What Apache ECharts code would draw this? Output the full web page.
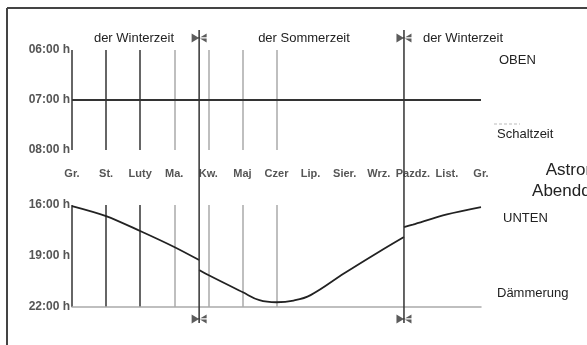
<!DOCTYPE html>
<html>
<head>
<meta charset="utf-8">
<script src="https://cdn.jsdelivr.net/npm/echarts@6/dist/echarts.min.js"></script>
<style>
  html, body { margin: 0; padding: 0; background: #fff; }
  #chart { width: 587px; height: 345px; }
</style>
</head>
<body>
<div id="chart"></div>
<script>
// Monatsnamen (polnisch, wie im Original)
const months = ["Gr.", "St.", "Luty", "Ma.", "Kw.", "Maj", "Czer", "Lip.", "Sier.", "Wrz.", "Pazdz.", "List.", "Gr."];
// oben: Schaltzeit bleibt bei 07:00 h
const upperValues = [7, 7, 7, 7, 7, 7, 7, 7, 7, 7, 7, 7, 7];
const upperTicks = { 6: "06:00 h", 7: "07:00 h", 8: "08:00 h" };
// unten: Ende der Dämmerung (Stunden), in drei Abschnitten wegen Zeitumstellung
const winter1X = [0, 1, 2, 3, 3.73];
const winter1Y = [16.06, 16.65, 17.53, 18.47, 19.24];
const summerX = [3.73, 4, 5, 5.5, 6, 6.5, 7, 8, 9, 9.74];
const summerY = [19.82, 20.12, 21.12, 21.6, 21.72, 21.62, 21.3, 20.0, 18.76, 17.88];
const winter2X = [9.74, 10, 11, 12];
const winter2Y = [17.3, 17.15, 16.55, 16.12];
const lowerTicks = { 16: "16:00 h", 19: "19:00 h", 22: "22:00 h" };
// Zeitumstellung
const dstX = [3.73, 9.74];

const font = "'Liberation Sans', Arial, sans-serif";
const pairs = (xs, ys) => xs.map((x, i) => [x, ys[i]]);
const lineColors = ["#333", "#333", "#333", "#aaa", "#aaa", "#aaa", "#aaa",
  "rgba(0,0,0,0)", "rgba(0,0,0,0)", "rgba(0,0,0,0)", "rgba(0,0,0,0)", "rgba(0,0,0,0)", "rgba(0,0,0,0)"];
const bowtie = "path://M0,0 L7.5,4.5 L0,9 Z M15,0 L7.5,4.5 L15,9 Z M0,3.8 L15,3.8 L15,5.2 L0,5.2 Z";

const baseX = {
  type: "value", min: 0, max: 12, interval: 1,
  axisTick: { show: false },
  splitLine: { show: true, lineStyle: { color: lineColors, width: 1.5 } },
};
const txt = (x, y, text, size, align) => ({
  type: "text", x, y,
  style: { text, font: `${size}px ${font}`, fill: "#222", textAlign: align || "left", textVerticalAlign: "middle" },
});
const yLabel = (ticks) => ({
  margin: 2, fontSize: 12, fontWeight: "bold", color: "#555", fontFamily: font,
  formatter: (v) => ticks[v] || "",
});

const options = {
  animation: false,
  grid: [
    { left: 72, top: 50, width: 409, height: 100 },
    { left: 72, top: 205, width: 409, height: 102 },
    { left: 72, top: 30, width: 409, height: 293 },
  ],
  xAxis: [
    Object.assign({}, baseX, {
      gridIndex: 0,
      axisLine: { show: false },
      axisLabel: {
        margin: 18, fontSize: 11, fontWeight: "bold", color: "#555", fontFamily: font,
        showMinLabel: true, showMaxLabel: true,
        formatter: (v) => months[v] || "",
      },
    }),
    Object.assign({}, baseX, {
      gridIndex: 1,
      axisLine: { show: true, onZero: false, lineStyle: { color: "#aaa", width: 1.5 } },
      axisLabel: { show: false },
    }),
    { type: "value", gridIndex: 2, min: 0, max: 12, show: false },
  ],
  yAxis: [
    {
      type: "value", gridIndex: 0, min: 6, max: 8, interval: 1, inverse: true,
      axisLine: { show: false }, axisTick: { show: false }, splitLine: { show: false },
      axisLabel: yLabel(upperTicks),
    },
    {
      type: "value", gridIndex: 1, min: 16, max: 22, interval: 1, inverse: true,
      axisLine: { show: false }, axisTick: { show: false }, splitLine: { show: false },
      axisLabel: yLabel(lowerTicks),
    },
    { type: "value", gridIndex: 2, min: 0, max: 1, inverse: true, show: false },
  ],
  graphic: [
    { type: "line", shape: { x1: 7, y1: 8, x2: 587, y2: 8 }, style: { stroke: "#444", lineWidth: 2 } },
    { type: "line", shape: { x1: 7, y1: 8, x2: 7, y2: 345 }, style: { stroke: "#444", lineWidth: 2 } },
    { type: "line", shape: { x1: 494, y1: 124, x2: 520, y2: 124 }, style: { stroke: "#bbb", lineWidth: 1, lineDash: [3, 2] } },
    txt(134, 38, "der Winterzeit", 13, "center"),
    txt(304, 38, "der Sommerzeit", 13, "center"),
    txt(463, 38, "der Winterzeit", 13, "center"),
    txt(499, 60, "OBEN", 13),
    txt(497, 134, "Schaltzeit", 13),
    txt(602, 170, "Astronomische", 17, "center"),
    txt(602, 191, "Abenddämmerung", 17, "center"),
    txt(503, 218, "UNTEN", 13),
    txt(497, 293, "Dämmerung", 13),
  ],
  series: [
    {
      name: "oben", type: "line", xAxisIndex: 0, yAxisIndex: 0, symbol: "none",
      data: upperValues.map((v, i) => [i, v]),
      lineStyle: { color: "#333", width: 1.8 },
    },
    {
      name: "Winterzeit 1", type: "line", xAxisIndex: 1, yAxisIndex: 1, symbol: "none", smooth: 0.3,
      data: pairs(winter1X, winter1Y), lineStyle: { color: "#222", width: 1.8 },
    },
    {
      name: "Sommerzeit", type: "line", xAxisIndex: 1, yAxisIndex: 1, symbol: "none", smooth: 0.4,
      data: pairs(summerX, summerY), lineStyle: { color: "#222", width: 1.8 },
    },
    {
      name: "Winterzeit 2", type: "line", xAxisIndex: 1, yAxisIndex: 1, symbol: "none", smooth: 0.3,
      data: pairs(winter2X, winter2Y), lineStyle: { color: "#222", width: 1.8 },
    },
    {
      name: "Umstellung März", type: "line", xAxisIndex: 2, yAxisIndex: 2, symbol: "none",
      data: [[dstX[0], 0], [dstX[0], 1]], lineStyle: { color: "#333", width: 1.5 },
    },
    {
      name: "Umstellung Oktober", type: "line", xAxisIndex: 2, yAxisIndex: 2, symbol: "none",
      data: [[dstX[1], 0], [dstX[1], 1]], lineStyle: { color: "#333", width: 1.5 },
    },
    {
      name: "Marker", type: "scatter", xAxisIndex: 2, yAxisIndex: 2,
      symbol: bowtie, symbolSize: [15, 9], itemStyle: { color: "#333" },
      data: [[dstX[0], 0.027], [dstX[0], 0.986], [dstX[1], 0.027], [dstX[1], 0.986]],
    },
  ],
};

const chart = echarts.init(document.getElementById("chart"));
chart.setOption(options);
window.addEventListener("resize", () => {
  chart.resize();
});
</script>
</body>
</html>
